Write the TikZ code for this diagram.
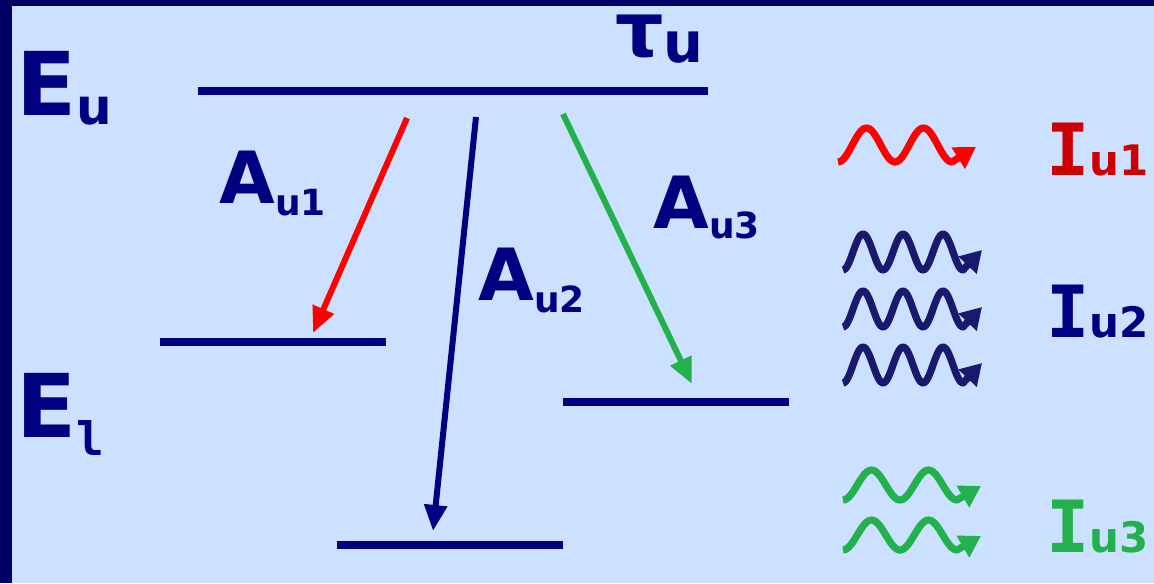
\documentclass[tikz,border=0pt]{standalone}
\usepackage{fontspec}
\setmainfont{DejaVu Sans}
\newfontfamily\serifmono{DejaVu Sans Mono}
\usetikzlibrary{arrows.meta}

\definecolor{frameblue}{RGB}{0,0,102}
\definecolor{paleblue}{RGB}{204,224,255}
\definecolor{levelblue}{RGB}{0,0,128}
\definecolor{wavenavy}{RGB}{25,25,110}
\definecolor{redline}{RGB}{255,0,0}
\definecolor{redtext}{RGB}{204,0,0}
\definecolor{greenline}{RGB}{34,177,76}

\newcommand{\fs}[1]{\fontsize{#1}{#1}\selectfont}

\begin{document}
\begin{tikzpicture}[
  x=0.5pt, y=-0.5pt,
  level/.style={levelblue, line width=3.8pt},
  trans/.style={line width=3pt, -{Triangle[length=13pt, width=11pt]}},
  photon/.style={line width=3.6pt, line join=round, -{Triangle[length=10.5pt, width=12pt]}},
  lbl/.style={inner sep=0pt, anchor=base west, levelblue, font=\bfseries}
]
  % frame
  \fill[frameblue] (0,0) rectangle (1154,583);
  \fill[paleblue] (12,6) rectangle (1154,583);
  \useasboundingbox (0,0) rectangle (1154,583);

  % energy levels
  \coordinate (up-w) at (198,91);   \coordinate (up-e) at (708,91);
  \coordinate (lo1-w) at (160,342); \coordinate (lo1-e) at (386,342);
  \coordinate (lo2-w) at (337,545); \coordinate (lo2-e) at (563,545);
  \coordinate (lo3-w) at (563,402); \coordinate (lo3-e) at (789,402);
  \draw[level] (up-w) -- (up-e);
  \draw[level] (lo1-w) -- (lo1-e);
  \draw[level] (lo2-w) -- (lo2-e);
  \draw[level] (lo3-w) -- (lo3-e);

  % transitions
  \coordinate (a1-from) at (407,118); \coordinate (a1-to) at (313,333);
  \coordinate (a2-from) at (476,117); \coordinate (a2-to) at (433,531);
  \coordinate (a3-from) at (563,114); \coordinate (a3-to) at (692,384);
  \draw[trans, redline] (a1-from) -- (a1-to);
  \draw[trans, levelblue] (a2-from) -- (a2-to);
  \draw[trans, greenline] (a3-from) -- (a3-to);

  % emitted light
  \draw[photon, redline, shift={(838,145)}]
    plot[domain=0:2, samples=60] ({57*\x}, {17*cos(360*\x)}) -- ++(24,-15);
  \foreach \c in {252,309,365}
    \draw[photon, wavenavy, shift={(843,\c)}]
      plot[domain=0:3, samples=80] ({40*\x}, {18*cos(360*\x)}) -- ++(19,-20);
  \foreach \c in {485,535}
    \draw[photon, greenline, shift={(843,\c)}]
      plot[domain=0:2, samples=60] ({57*\x}, {15*cos(360*\x)}) -- ++(24,-14);

  % labels
  \node[lbl, font=\bfseries\fs{44}] (Eu) at (16,115) {E\raisebox{-5pt}{\fs{25}u}};
  \node[lbl, font=\bfseries\fs{44}] (El) at (16,437) {E\raisebox{-9pt}{\serifmono\fs{23}l}};
  \node[lbl, font=\bfseries\fs{38}] (tau) at (615,57) {τ\raisebox{-3pt}{\fs{28}u}};
  \node[lbl, font=\bfseries\fs{36}] (A1) at (219,203) {A\raisebox{-6pt}{\fs{18}u1}};
  \node[lbl, font=\bfseries\fs{36}] (A2) at (478,300) {A\raisebox{-6pt}{\fs{18}u2}};
  \node[lbl, font=\bfseries\fs{36}] (A3) at (653,228) {A\raisebox{-5pt}{\fs{18}u3}};
  \node[lbl, redtext, font=\bfseries\fs{36}] (I1) at (1046,175) {{\serifmono I}{\fs{21}u1}};
  \node[lbl, font=\bfseries\fs{36}] (I2) at (1046,337) {{\serifmono I}{\fs{21}u2}};
  \node[lbl, greenline, font=\bfseries\fs{36}] (I3) at (1046,552) {{\serifmono I}{\fs{21}u3}};
\end{tikzpicture}
\end{document}
